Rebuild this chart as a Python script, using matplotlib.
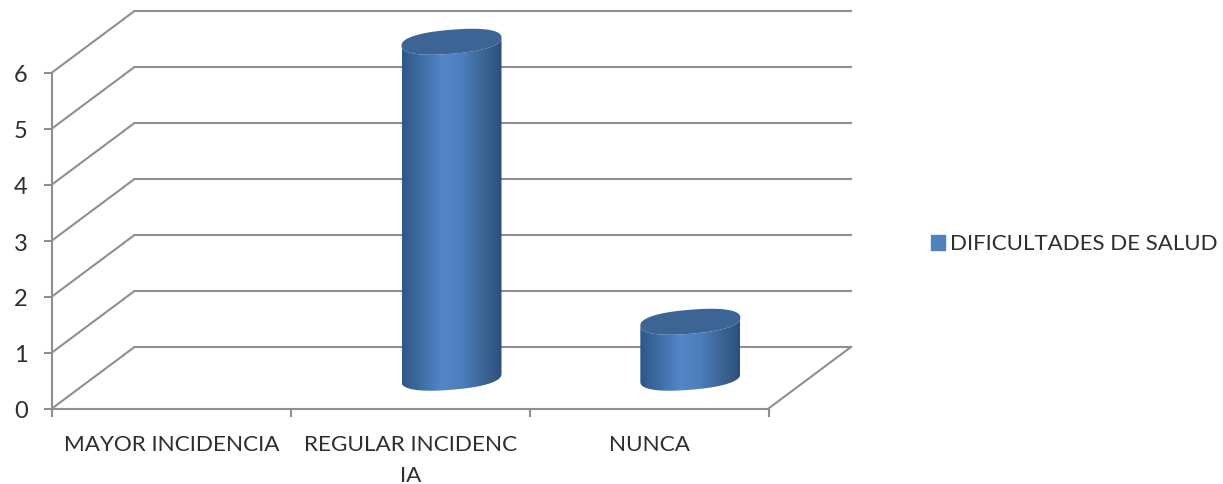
import numpy as np
from matplotlib import pyplot as plt
from matplotlib.colors import LinearSegmentedColormap
from matplotlib.patches import Patch, PathPatch
from matplotlib.path import Path
from matplotlib.transforms import ScaledTranslation

categories = ['MAYOR INCIDENCIA', 'REGULAR INCIDENC\nIA', 'NUNCA']
values = [0, 6, 1]
y_ticks = [0, 1, 2, 3, 4, 5, 6]
series_name = 'DIFICULTADES DE SALUD'

W, H = 1223, 484
# front plane of the fake 3d box, in pixels
LEFT, RIGHT, BOTTOM, TOP = 52, 768.5, 408.5, 72.5
DEPTH_X, DEPTH_Y = 82.5, 61.5
GRID = '#8f8f8f'
TEXT = '#2e2e2e'

plt.rcParams['font.family'] = ['Lato', 'DejaVu Sans']

fig = plt.figure(figsize=(W / 100, H / 100), dpi=100)
ax = fig.add_axes([LEFT / W, 1 - BOTTOM / H, (RIGHT - LEFT) / W, (BOTTOM - TOP) / H])
ax.set_xlim(0, len(categories))
ax.set_ylim(0, max(y_ticks))

# pixel -> data scale
px_x = len(categories) / (RIGHT - LEFT)
px_y = max(y_ticks) / (BOTTOM - TOP)
dx = DEPTH_X * px_x
dy = DEPTH_Y * px_y

# walls
for v in y_ticks:
    ax.plot([0, dx, len(categories) + dx], [v, v + dy, v + dy], color=GRID, lw=1.5,
            clip_on=False, zorder=1, solid_joinstyle='miter')
ax.plot([len(categories), len(categories) + dx], [0, dy], color=GRID, lw=1.5, clip_on=False, zorder=1)

# cylinders
cmap = LinearSegmentedColormap.from_list('cyl', ['#2d5786', '#3f6ea6', '#5286c9', '#4c7fbd', '#3d6797', '#2b4f7b'])
grad = np.linspace(0, 1, 256).reshape(1, -1)
half_w = 50 * px_x
half_h = 12 * px_y
tilt = 4 * px_y
t = np.linspace(0, 2 * np.pi, 121)


def ellipse(cx, cy, t):
    # tilted and slightly squared ellipse, a bit higher on the right side
    c = np.sign(np.cos(t)) * np.abs(np.cos(t)) ** 0.85
    s = np.sign(np.sin(t)) * np.abs(np.sin(t)) ** 0.85
    return cx + half_w * c, cy + half_h * s + tilt * c


for i, v in enumerate(values):
    if v == 0:
        continue
    cx = i + 0.5 + dx / 2
    base = dy / 2
    top = v + dy / 2

    lower = np.linspace(np.pi, 2 * np.pi, 60)
    bx, by = ellipse(cx, base, lower)
    tx, ty = ellipse(cx, top, lower[::-1])
    body = Path(np.column_stack([np.r_[bx, tx], np.r_[by, ty]]))
    im = ax.imshow(grad, extent=[cx - half_w, cx + half_w, base - half_h - tilt, top + half_h + tilt],
                   aspect='auto', cmap=cmap, zorder=3)
    im.set_clip_path(PathPatch(body, transform=ax.transData))
    im.set_clip_box(fig.bbox)

    ex, ey = ellipse(cx, top, t)
    ax.fill(ex, ey, color='#3c6595', lw=0, zorder=4, clip_on=False)

ax.set_xlim(0, len(categories))
ax.set_ylim(0, max(y_ticks))

# axes
for s in ['top', 'right']:
    ax.spines[s].set_visible(False)
for s in ['left', 'bottom']:
    ax.spines[s].set_color(GRID)
    ax.spines[s].set_linewidth(1.5)
    ax.spines[s].set_zorder(2)

ax.set_yticks(y_ticks)
ax.set_xticks(range(len(categories) + 1))
ax.set_xticklabels([])
ax.set_xticks([i + 0.5 for i in range(len(categories))], categories, minor=True,
              fontsize=16.2, color=TEXT, linespacing=1.72, va='top')
ax.tick_params(axis='x', which='major', length=6, width=1.5, color=GRID)
ax.tick_params(axis='x', which='minor', length=0, pad=19)
ax.tick_params(axis='y', length=6, width=1.5, color=GRID, labelsize=17, labelcolor=TEXT, pad=11.5)
for label in ax.get_yticklabels():
    label.set_transform(label.get_transform() + ScaledTranslation(0, -1.5 / 100, fig.dpi_scale_trans))

fig.legend(handles=[Patch(color='#4f81bd', label=series_name)], loc='center left',
           bbox_to_anchor=(931 / W, 1 - 244 / H), frameon=False, fontsize=16,
           handlelength=0.65, handleheight=0.65, handletextpad=0.2, labelcolor=TEXT,
           borderpad=0, borderaxespad=0)

fig.savefig('out.png', dpi=100)
